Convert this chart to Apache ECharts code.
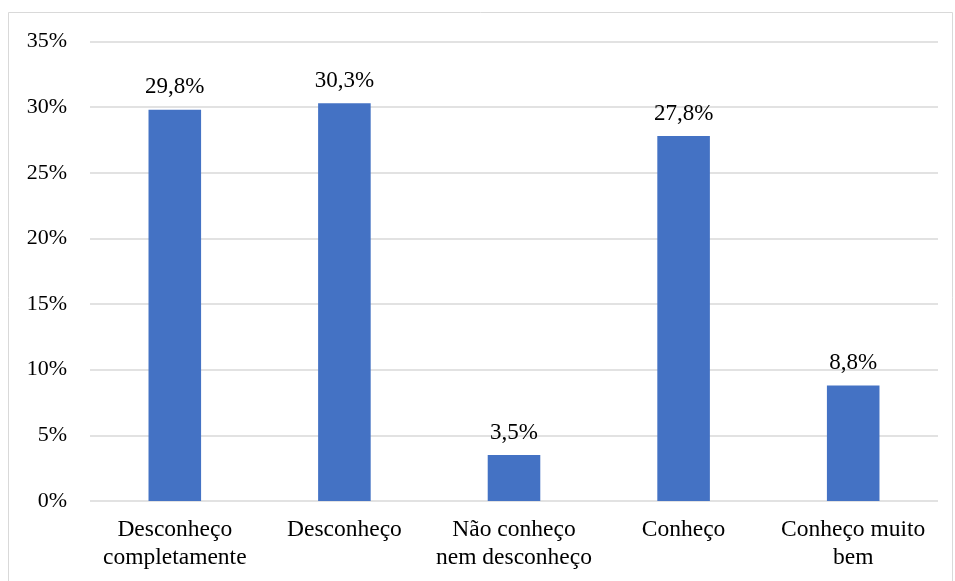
<!DOCTYPE html>
<html>
<head>
<meta charset="utf-8">
<script src="https://cdn.jsdelivr.net/npm/echarts@6/dist/echarts.min.js"></script>
<style>
  html, body { margin: 0; padding: 0; background: #fff; }
  #chart { width: 955px; height: 581px; }
</style>
</head>
<body>
<div id="chart"></div>
<script>
// Response categories and their shares (%)
const categories = [
  'Desconheço\ncompletamente',
  'Desconheço',
  'Não conheço\nnem desconheço',
  'Conheço',
  'Conheço muito\nbem'
];
const shares = [29.8, 30.3, 3.5, 27.8, 8.8];
const yTicks = [0, 5, 10, 15, 20, 25, 30, 35];

const FONT = "'Liberation Serif', 'Times New Roman', serif";

const chart = echarts.init(document.getElementById('chart'), null, { renderer: 'canvas' });
chart.setOption({
  animation: false,
  backgroundColor: '#ffffff',
  graphic: [{
    type: 'rect',
    shape: { x: 8.5, y: 12.5, width: 944, height: 600 },
    style: { fill: 'none', stroke: '#d9d9d9', lineWidth: 1 },
    silent: true,
    z: -1
  }],
  grid: { left: 90, right: 17, top: 41.5, bottom: 80, containLabel: false },
  xAxis: {
    type: 'category',
    data: categories,
    axisLine: { show: false },
    axisTick: { show: false },
    axisLabel: {
      fontFamily: FONT, fontSize: 23.5, color: '#000', lineHeight: 28,
      margin: 15, interval: 0
    }
  },
  yAxis: {
    type: 'value',
    min: yTicks[0],
    max: yTicks[yTicks.length - 1],
    interval: 5,
    axisLine: { show: false },
    axisTick: { show: false },
    splitLine: { lineStyle: { color: '#d9d9d9', width: 1.5 } },
    axisLabel: {
      fontFamily: FONT, fontSize: 22, color: '#000', margin: 23,
      formatter: v => v + '%'
    }
  },
  series: [{
    type: 'bar',
    data: shares,
    barWidth: '31%',
    itemStyle: { color: '#4472c4' },
    label: {
      show: true,
      position: 'top',
      distance: 11,
      fontFamily: FONT, fontSize: 23, color: '#000',
      formatter: p => p.value.toFixed(1).replace('.', ',') + '%'
    }
  }]
});
</script>
</body>
</html>
